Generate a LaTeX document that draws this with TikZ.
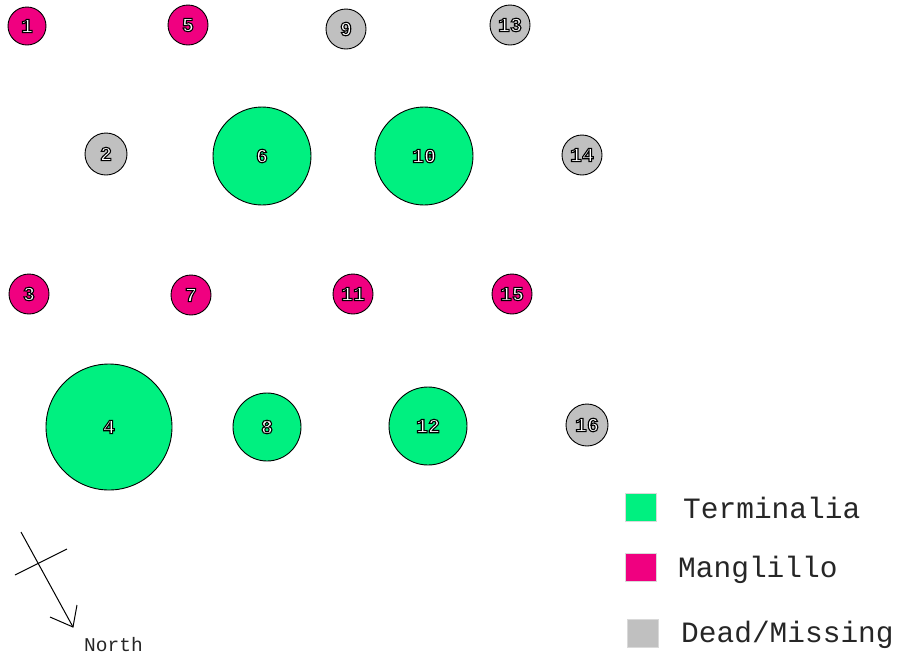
\documentclass[tikz,border=0pt]{standalone}
\usepackage{fontspec}
\setmonofont{Liberation Mono}
\definecolor{terminalia}{RGB}{0,240,128}
\definecolor{manglillo}{RGB}{240,0,128}
\definecolor{deadgray}{RGB}{192,192,192}
\newcommand{\outl}[1]{{\color{white}\special{pdf:literal direct 2 Tr 0 G 1.1 w}#1\special{pdf:literal direct 0 Tr}}}
\begin{document}
\begin{tikzpicture}[x=1pt,y=-1pt,
  tree/.style={circle,draw=black,line width=0.9pt,inner sep=0pt,font=\ttfamily\bfseries\fontsize{20}{20}\selectfont},
  terminaliatree/.style={tree,fill=terminalia},
  manglillotree/.style={tree,fill=manglillo},
  deadtree/.style={tree,fill=deadgray},
  legendbox/.style={draw=deadgray!60,line width=1pt,minimum width=31pt,minimum height=28pt,inner sep=0pt},
  legendtext/.style={anchor=west,inner sep=0pt,font=\ttfamily\fontsize{29.5}{29.5}\selectfont,text=black!85}]
\useasboundingbox (0,0) rectangle (899,657);
% row 1
\node[manglillotree,minimum size=38pt] (t1) at (27,26) {\outl{1}};
\node[manglillotree,minimum size=40pt] (t5) at (188,25) {\outl{5}};
\node[deadtree,minimum size=40pt] (t9) at (346,29) {\outl{9}};
\node[deadtree,minimum size=40pt] (t13) at (510,25) {\outl{13}};
% row 2
\node[deadtree,minimum size=42pt] (t2) at (106,154) {\outl{2}};
\node[terminaliatree,minimum size=98pt] (t6) at (262,156) {\outl{6}};
\node[terminaliatree,minimum size=98pt] (t10) at (424,156) {\outl{10}};
\node[deadtree,minimum size=40pt] (t14) at (582,155) {\outl{14}};
% row 3
\node[manglillotree,minimum size=40pt] (t3) at (29,294) {\outl{3}};
\node[manglillotree,minimum size=40pt] (t7) at (191,295) {\outl{7}};
\node[manglillotree,minimum size=40pt] (t11) at (353,294) {\outl{11}};
\node[manglillotree,minimum size=40pt] (t15) at (512,294) {\outl{15}};
% row 4
\node[terminaliatree,minimum size=126pt] (t4) at (109,427) {\outl{4}};
\node[terminaliatree,minimum size=68pt] (t8) at (267,427) {\outl{8}};
\node[terminaliatree,minimum size=78pt] (t12) at (428,426) {\outl{12}};
\node[deadtree,minimum size=42pt] (t16) at (587,425) {\outl{16}};
% legend
\node[legendbox,fill=terminalia] (l1) at (641,507) {};
\node[legendbox,fill=manglillo] (l2) at (641,567) {};
\node[legendbox,fill=deadgray] (l3) at (643,633) {};
\node[legendtext] (lt1) at (683,508) {Terminalia};
\node[legendtext] (lt2) at (678,570) {Manglillo};
\node[legendtext] (lt3) at (681,635) {Dead/Missing};
% north arrow
\coordinate (ns) at (21,532);
\coordinate (nt) at (73,627);
\coordinate (c1) at (15,575);
\coordinate (c2) at (67,549);
\coordinate (h1) at (50,617);
\coordinate (h2) at (77,605);
\draw[line width=1pt] (ns) -- (nt);
\draw[line width=1pt] (c1) -- (c2);
\draw[line width=1pt] (h1) -- (nt) -- (h2);
\node[anchor=west,inner sep=0pt,font=\ttfamily\fontsize{19.5}{19.5}\selectfont,text=black!85] (north) at (84,645) {North};
\end{tikzpicture}
\end{document}
